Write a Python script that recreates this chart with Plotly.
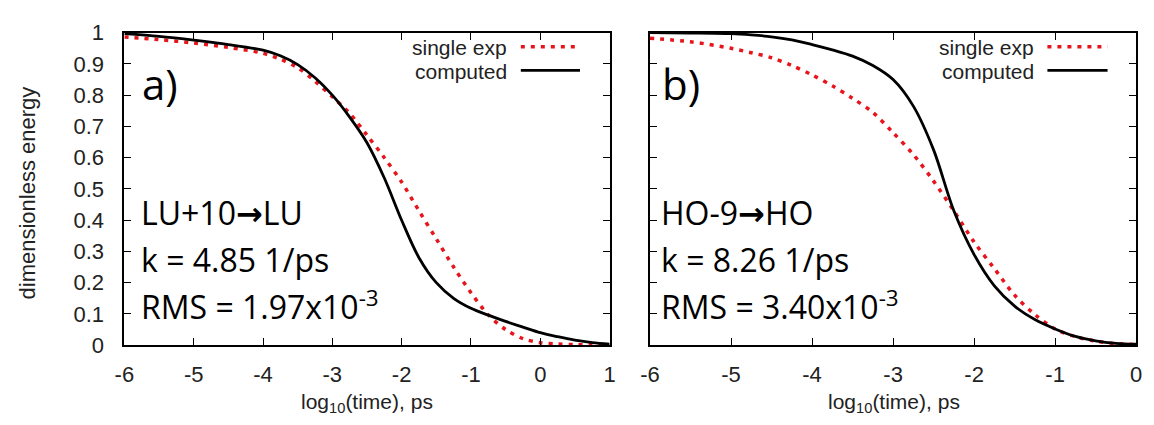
import plotly.graph_objects as go

# ---- data ----
x_a = [-6, -5.5, -5, -4.5, -4, -3.75, -3.5, -3.25, -3, -2.75, -2.5, -2.25, -2, -1.75, -1.5,
       -1.25, -1, -0.75, -0.5, -0.25, 0, 0.25, 0.5, 0.75, 1]
computed_a = [0.997, 0.988, 0.976, 0.962, 0.944, 0.926, 0.898, 0.856, 0.80, 0.73, 0.648, 0.535,
              0.40, 0.28, 0.20, 0.15, 0.118, 0.096, 0.076, 0.058, 0.040, 0.027, 0.016,
              0.008, 0.003]
single_a = [0.986, 0.978, 0.967, 0.953, 0.934, 0.915, 0.888, 0.845, 0.795, 0.742, 0.672, 0.60,
            0.522, 0.43, 0.34, 0.25, 0.168, 0.097, 0.05, 0.021, 0.008, 0.004, 0.002, 0.001, 0.0]

x_b = [-6, -5.5, -5, -4.75, -4.5, -4.25, -4, -3.75, -3.5, -3.25, -3, -2.75, -2.5, -2.25,
       -2, -1.75, -1.5, -1.25, -1, -0.75, -0.5, -0.25, 0]
computed_b = [1.0, 0.999, 0.997, 0.993, 0.987, 0.977, 0.962, 0.945, 0.925, 0.895, 0.85,
              0.765, 0.625, 0.43, 0.29, 0.19, 0.125, 0.082, 0.052, 0.028, 0.014, 0.006, 0.003]
single_b = [0.982, 0.971, 0.95, 0.936, 0.92, 0.895, 0.865, 0.83, 0.79, 0.745, 0.68, 0.61,
            0.525, 0.43, 0.33, 0.245, 0.16, 0.098, 0.052, 0.027, 0.013, 0.005, 0.002]

y_ticks = [0, 0.1, 0.2, 0.3, 0.4, 0.5, 0.6, 0.7, 0.8, 0.9, 1]
y_tick_text = ["0", "0.1", "0.2", "0.3", "0.4", "0.5", "0.6", "0.7", "0.8", "0.9", "1"]
x_ticks_a = [-6, -5, -4, -3, -2, -1, 0, 1]
x_tick_text_a = ["-6", "-5", "-4", "-3", "-2", "-1", "0", "1"]
x_ticks_b = [-6, -5, -4, -3, -2, -1, 0]
x_tick_text_b = ["-6", "-5", "-4", "-3", "-2", "-1", "0"]

ARROW = "<span style='font-family:DejaVu Sans'><b>→</b></span>"
labels_a = ["a)", "LU+10" + ARROW + "LU", "k = 4.85 1/ps", "RMS = 1.97x10<sup>-3</sup>"]
labels_b = ["b)", "HO-9" + ARROW + "HO", "k = 8.26 1/ps", "RMS = 3.40x10<sup>-3</sup>"]
legend_names = ["single exp", "computed"]

# ---- styles ----
RED = "#e8141c"
BLACK = "#000000"
W, H = 1154, 425
SANS = "Liberation Sans, Arial, sans-serif"
TICKFONT = dict(family=SANS, size=22, color="#222")
ANNFONT = "Open Sans, sans-serif"

fig = go.Figure()
for xs, comp, single, xa, ya in [(x_a, computed_a, single_a, "x", "y"),
                                 (x_b, computed_b, single_b, "x2", "y2")]:
    fig.add_trace(go.Scatter(x=xs, y=single, mode="lines", xaxis=xa, yaxis=ya,
                             line=dict(color=RED, width=3.5, dash="4px,6px",
                                       shape="spline", smoothing=0.9),
                             showlegend=False))
    fig.add_trace(go.Scatter(x=xs, y=comp, mode="lines", xaxis=xa, yaxis=ya,
                             line=dict(color=BLACK, width=2.8, shape="spline", smoothing=0.9),
                             showlegend=False))

dom_a = [116 / W, 608 / W]
dom_b = [649 / W, 1142 / W]
dom_y = [(H - 354) / H, (H - 22) / H]

axis_common = dict(showline=True, linewidth=2, linecolor="black", mirror="ticks",
                   ticks="inside", ticklen=7, tickwidth=1.2, tickcolor="black",
                   showgrid=False, zeroline=False, tickfont=TICKFONT)

fig.update_layout(
    width=W, height=H,
    margin=dict(l=0, r=0, t=0, b=0),
    paper_bgcolor="white", plot_bgcolor="white",
    showlegend=False,
    xaxis=dict(domain=dom_a, range=[-6, 1], tickvals=x_ticks_a, ticktext=x_tick_text_a,
               anchor="y", ticklabelstandoff=8, **axis_common),
    xaxis2=dict(domain=dom_b, range=[-6, 0], tickvals=x_ticks_b, ticktext=x_tick_text_b,
                anchor="y2", ticklabelstandoff=8, **axis_common),
    yaxis=dict(domain=dom_y, range=[0, 1], tickvals=y_ticks, ticktext=y_tick_text,
               anchor="x", ticklabelstandoff=14, **axis_common),
    yaxis2=dict(domain=dom_y, range=[0, 1], tickvals=y_ticks, showticklabels=False,
                anchor="x2", **axis_common),
)

annotations = []
shapes = []
for labels, xl, leg_right, x0s, x1s in [
        (labels_a, 131, 503, 518, 578),
        (labels_b, 658, 1037, 1052, 1113)]:
    # panel letter
    annotations.append(dict(text=labels[0], xref="paper", yref="paper",
                            x=(xl + 1) / W, y=1 - 76 / H, xanchor="left", yanchor="middle",
                            showarrow=False, font=dict(family=ANNFONT, size=42, color="black")))
    for txt, ypx in zip(labels[1:], [213, 263, 311]):
        annotations.append(dict(text=txt, xref="paper", yref="paper",
                                x=xl / W, y=1 - ypx / H, xanchor="left", yanchor="middle",
                                showarrow=False,
                                font=dict(family=ANNFONT, size=32, color="black")))
    # legend (text on the left, sample line on the right)
    for name, ypx, col, dash, wd in zip(legend_names, [38, 63], [RED, BLACK],
                                        ["4px,6px", "solid"], [3.5, 2.8]):
        annotations.append(dict(text=name, xref="paper", yref="paper",
                                x=(leg_right + 2) / W, y=1 - ypx / H, xanchor="right",
                                yanchor="middle", showarrow=False, borderpad=0,
                                font=dict(family=SANS, size=21, color="#222")))
        shapes.append(dict(type="line", xref="paper", yref="paper",
                           x0=x0s / W, x1=x1s / W, y0=1 - (ypx - 1) / H, y1=1 - (ypx - 1) / H,
                           line=dict(color=col, width=wd, dash=dash)))

# axis titles
annotations.append(dict(text="dimensionless energy", xref="paper", yref="paper",
                        x=18 / W, y=1 - 192 / H, textangle=-90, showarrow=False,
                        xanchor="center", yanchor="middle",
                        font=dict(family=SANS, size=22, color="#222")))
for cx in [362, 896]:
    annotations.append(dict(text="log<sub>10</sub>(time), ps", xref="paper", yref="paper",
                            x=cx / W, y=1 - 415 / H, showarrow=False, borderpad=0,
                            xanchor="center", yanchor="middle",
                            font=dict(family=SANS, size=21, color="#222")))

fig.update_layout(annotations=annotations, shapes=shapes)
fig.write_html("out.html")
